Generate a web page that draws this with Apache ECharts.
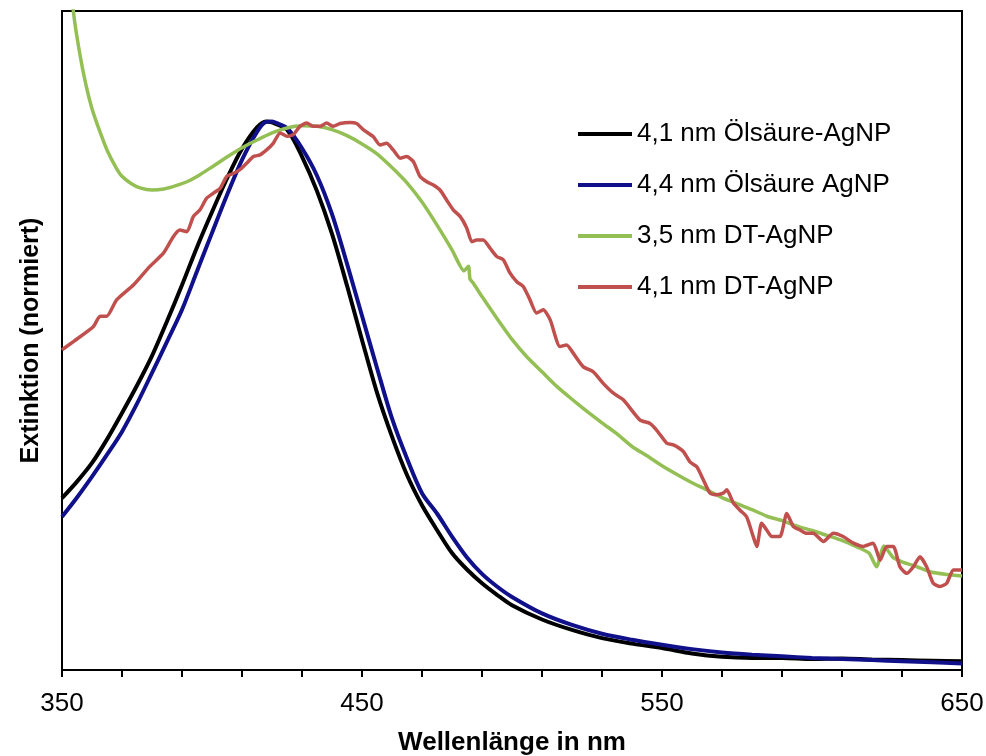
<!DOCTYPE html>
<html>
<head>
<meta charset="utf-8">
<script src="https://cdn.jsdelivr.net/npm/echarts@6/dist/echarts.min.js"></script>
<style>
html,body{margin:0;padding:0;background:#fff;}
#chart{width:986px;height:756px;}
</style>
</head>
<body>
<div id="chart"></div>
<script>
// ---- data ----
const seriesNames = ['4,1 nm Ölsäure-AgNP', '4,4 nm Ölsäure AgNP', '3,5 nm DT-AgNP', '4,1 nm DT-AgNP'];
const xTickLabels = [350, 450, 550, 650];

const blackNm  = [350,355,360,365,370,375,380,385,390,395,400,405,410,415,418,420,425,430,435,440,445,450,455,460,465,470,475,480,485,490,495,500,510,520,530,540,550,560,570,580,590,600,610,620,630,640,650];
const blackVal = [0.313,0.343,0.377,0.420,0.468,0.518,0.572,0.635,0.701,0.770,0.834,0.895,0.949,0.988,0.999,0.997,0.984,0.935,0.872,0.794,0.700,0.601,0.505,0.425,0.355,0.300,0.255,0.213,0.183,0.158,0.137,0.118,0.092,0.073,0.058,0.048,0.040,0.030,0.024,0.022,0.022,0.020,0.021,0.019,0.018,0.017,0.016];

const blueNm  = [350,355,360,365,370,375,380,385,390,395,400,405,410,415,418,420,422,425,430,435,440,445,450,455,460,465,470,475,480,485,490,495,500,510,520,530,540,550,560,570,580,590,600,610,620,630,640,650];
const blueVal = [0.279,0.314,0.352,0.392,0.434,0.485,0.541,0.598,0.656,0.726,0.796,0.865,0.929,0.980,0.998,0.999,0.995,0.987,0.950,0.900,0.830,0.740,0.645,0.550,0.458,0.385,0.322,0.285,0.243,0.205,0.175,0.152,0.133,0.103,0.082,0.066,0.055,0.046,0.038,0.032,0.028,0.025,0.022,0.020,0.018,0.016,0.014,0.012];

const greenNm  = [350,352,354,356,358,360,362,365,368,370,373,376,380,384,388,392,396,400,405,410,415,420,425,430,435,440,445,450,455,460,465,470,475,480,484,485.5,486,487,490,495,500,505,510,515,520,525,530,535,540,545,550,555,560,565,570,575,580,585,590,595,600,605,610,615,619,621.5,624,627,630,635,640,645,650];
const greenVal = [1.45,1.30,1.19,1.12,1.065,1.022,0.99,0.947,0.915,0.899,0.886,0.878,0.874,0.876,0.882,0.890,0.902,0.916,0.934,0.951,0.965,0.978,0.987,0.991,0.990,0.984,0.973,0.958,0.940,0.915,0.887,0.852,0.810,0.765,0.727,0.735,0.712,0.705,0.680,0.640,0.602,0.570,0.543,0.516,0.493,0.471,0.450,0.430,0.407,0.390,0.372,0.356,0.341,0.328,0.314,0.303,0.292,0.280,0.272,0.262,0.254,0.245,0.236,0.224,0.213,0.188,0.226,0.205,0.197,0.188,0.178,0.174,0.171];

const redNm  = [350,353.8,360.4,362.7,364.9,368.2,373.8,379.3,383.8,387.1,389.3,391.6,393.8,396,398.2,400.4,402.7,404.9,407.1,409.3,411.6,413.8,416,418.2,420.4,422.7,424.9,427.1,429.3,431.6,433.8,436,438.2,440.4,442.7,446,448.2,450.4,453.8,456,458.2,460.4,462.7,464.9,467.1,469.3,471.6,473.8,476,478.2,480.4,482.7,484.9,486.6,488.2,490.4,492.7,494.9,497.1,499.3,501.6,503.8,506,508.2,510.4,512.7,516,518.2,520.4,523.8,527.1,530.4,533.8,537.1,542.7,546,548.2,551.6,553.8,557.1,559.3,561.6,563.8,566,568.2,570.4,571.6,573.8,576,578.2,580.4,581.6,583.2,584.9,586.6,589.3,591.6,593.8,596,598.2,600.4,603.8,607.1,610.4,613.8,617.1,620.4,622.7,624.9,627.1,629.3,631.6,633.8,636,638.2,640.4,642.7,644.9,647.1,650];
const redVal = [0.583,0.598,0.625,0.644,0.644,0.674,0.701,0.735,0.759,0.789,0.801,0.798,0.826,0.838,0.859,0.868,0.877,0.899,0.904,0.911,0.923,0.935,0.938,0.947,0.959,0.978,0.972,0.975,0.990,0.996,0.990,0.990,0.996,0.990,0.995,0.997,0.995,0.984,0.971,0.956,0.959,0.947,0.932,0.935,0.926,0.899,0.889,0.883,0.874,0.856,0.838,0.826,0.805,0.780,0.783,0.783,0.768,0.753,0.747,0.723,0.707,0.698,0.674,0.650,0.656,0.638,0.589,0.592,0.577,0.552,0.543,0.522,0.504,0.492,0.455,0.449,0.437,0.413,0.410,0.398,0.379,0.370,0.346,0.322,0.319,0.322,0.328,0.304,0.291,0.279,0.243,0.225,0.267,0.255,0.243,0.243,0.285,0.261,0.255,0.249,0.249,0.234,0.249,0.243,0.231,0.225,0.231,0.200,0.225,0.225,0.188,0.176,0.188,0.206,0.188,0.158,0.152,0.158,0.182,0.182];

const colors = ['#000000', '#10108a', '#93bf55', '#c0504d'];

function pairs(xs, ys) { return xs.map((x, i) => [x, ys[i]]); }

const chart = echarts.init(document.getElementById('chart'), null, {renderer: 'canvas'});
const FONT = '"Liberation Sans", Arial, sans-serif';

const lineDefs = [
  {name: seriesNames[0], data: pairs(blackNm, blackVal), width: 4, smooth: 0.3},
  {name: seriesNames[1], data: pairs(blueNm, blueVal), width: 4, smooth: 0.3},
  {name: seriesNames[2], data: pairs(greenNm, greenVal), width: 3.5, smooth: 0.2},
  {name: seriesNames[3], data: pairs(redNm, redVal), width: 3.5, smooth: 0.2}
];

chart.setOption({
  animation: false,
  backgroundColor: '#ffffff',
  color: colors,
  grid: {left: 62, right: 24, top: 11, bottom: 86, show: true, borderColor: '#000', borderWidth: 2, backgroundColor: 'transparent', containLabel: false, outerBoundsMode: 'none'},
  legend: {
    orient: 'vertical',
    left: 578, top: 121, padding: 0,
    itemWidth: 54, itemHeight: 4, itemGap: 25, itemTextGap: 5,
    icon: 'rect',
    textStyle: {fontFamily: FONT, fontSize: 26, color: '#000', lineHeight: 26},
    data: seriesNames
  },
  xAxis: {
    type: 'value', min: 350, max: 650, interval: 20,
    name: 'Wellenlänge in nm', nameLocation: 'middle', nameGap: 60,
    nameTextStyle: {fontFamily: FONT, fontSize: 26, fontWeight: 'bold', color: '#000'},
    axisLine: {show: true, lineStyle: {color: '#000', width: 2}},
    axisTick: {show: true, inside: false, length: 7, lineStyle: {color: '#000', width: 2}},
    axisLabel: {
      margin: 21, fontFamily: FONT, fontSize: 26, color: '#000',
      formatter: function (v) { return xTickLabels.indexOf(v) >= 0 ? String(v) : ''; }
    },
    splitLine: {show: false}
  },
  yAxis: {
    type: 'value', min: 0, max: 1.2,
    name: 'Extinktion (normiert)', nameLocation: 'middle', nameGap: 18,
    nameTextStyle: {fontFamily: FONT, fontSize: 25, fontWeight: 'bold', color: '#000'},
    axisLine: {show: true, lineStyle: {color: '#000', width: 2}},
    axisTick: {show: false},
    axisLabel: {show: false},
    splitLine: {show: false}
  },
  series: lineDefs.map((d, i) => ({
    type: 'line', name: d.name, data: d.data,
    showSymbol: false, symbol: 'none', smooth: d.smooth, clip: true,
    lineStyle: {width: d.width, color: colors[i]},
    itemStyle: {color: colors[i]},
    z: 2 + i
  }))
});
</script>
</body>
</html>
